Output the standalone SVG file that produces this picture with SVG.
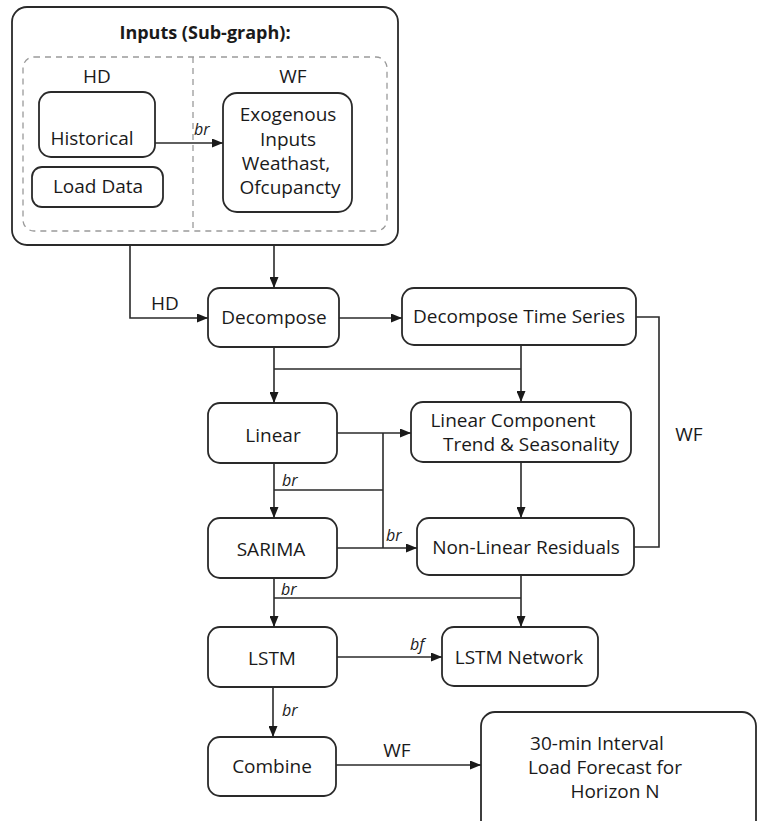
<svg xmlns="http://www.w3.org/2000/svg" width="757" height="821" viewBox="0 0 757 821">
  <style>
    .box { fill: #ffffff; stroke: #2a2a2a; stroke-width: 1.8; }
    .dash { fill: none; stroke: #9a9a9a; stroke-width: 1.3; stroke-dasharray: 6 5; }
    .t { font-family: "Open Sans", "Liberation Sans", sans-serif; font-size: 19px; fill: #1a1a1a; text-anchor: middle; }
    .lbl { font-family: "Open Sans", "Liberation Sans", sans-serif; font-size: 19px; fill: #1a1a1a; text-anchor: middle; }
    .it { font-family: "Open Sans", "Liberation Sans", sans-serif; font-size: 16px; font-style: italic; fill: #1a1a1a; }
    .title { font-family: "Open Sans", "Liberation Sans", sans-serif; font-size: 18px; font-weight: bold; fill: #1a1a1a; text-anchor: middle; }
    .edge { fill: none; stroke: #2a2a2a; stroke-width: 1.6; }
  </style>
  <defs>
    <marker id="arrow" markerUnits="userSpaceOnUse" markerWidth="11" markerHeight="9" refX="11" refY="4.5" orient="auto">
      <path d="M0,0 L11,4.5 L0,9 Z" fill="#1a1a1a"/>
    </marker>
  </defs>
  <rect width="757" height="821" fill="#ffffff"/>

  <!-- Inputs sub-graph -->
  <g id="inputs">
    <rect class="box" x="12" y="7" width="386" height="238" rx="15"/>
    <text class="title" x="205" y="39">Inputs (Sub-graph):</text>
    <rect class="dash" x="23" y="57" width="364" height="174" rx="11"/>
    <line class="dash" x1="193" y1="57" x2="193" y2="231"/>
    <text class="t" x="97" y="83">HD</text>
    <text class="t" x="293" y="83">WF</text>
  </g>
  <g id="historical">
    <rect class="box" x="39" y="92" width="116" height="65" rx="12"/>
    <text class="t" x="92" y="145">Historical</text>
  </g>
  <g id="load-data">
    <rect class="box" x="32" y="167" width="131" height="40" rx="10"/>
    <text class="t" x="98" y="193">Load Data</text>
  </g>
  <g id="exogenous">
    <rect class="box" x="223" y="93" width="129" height="119" rx="14"/>
    <text class="t" x="288" y="121">Exogenous</text>
    <text class="t" x="288" y="146">Inputs</text>
    <text class="t" x="286" y="170">Weathast,</text>
    <text class="t" x="290" y="194">Ofcupancty</text>
  </g>

  <!-- Main flow nodes -->
  <g id="decompose">
    <rect class="box" x="208" y="288" width="131" height="59" rx="12"/>
    <text class="t" x="274" y="324">Decompose</text>
  </g>
  <g id="decompose-ts">
    <rect class="box" x="402" y="288" width="234" height="57" rx="12"/>
    <text class="t" x="519" y="323">Decompose Time Series</text>
  </g>
  <g id="linear">
    <rect class="box" x="208" y="403" width="129" height="60" rx="12"/>
    <text class="t" x="273" y="442">Linear</text>
  </g>
  <g id="linear-component">
    <rect class="box" x="411" y="402" width="220" height="60" rx="12"/>
    <text class="t" x="513" y="427">Linear Component</text>
    <text class="t" x="531" y="451">Trend &amp; Seasonality</text>
  </g>
  <g id="sarima">
    <rect class="box" x="208" y="518" width="129" height="60" rx="12"/>
    <text class="t" x="271" y="556">SARIMA</text>
  </g>
  <g id="nonlinear">
    <rect class="box" x="417" y="518" width="217" height="57" rx="12"/>
    <text class="t" x="526" y="554">Non-Linear Residuals</text>
  </g>
  <g id="lstm">
    <rect class="box" x="208" y="627" width="129" height="60" rx="12"/>
    <text class="t" x="272" y="665">LSTM</text>
  </g>
  <g id="lstm-network">
    <rect class="box" x="442" y="627" width="156" height="59" rx="12"/>
    <text class="t" x="519" y="664">LSTM Network</text>
  </g>
  <g id="combine">
    <rect class="box" x="208" y="737" width="128" height="59" rx="12"/>
    <text class="t" x="272" y="773">Combine</text>
  </g>
  <g id="forecast">
    <rect class="box" x="481" y="712" width="275" height="130" rx="14"/>
    <text class="t" x="597" y="750">30-min Interval</text>
    <text class="t" x="605" y="774">Load Forecast for</text>
    <text class="t" x="615" y="798">Horizon N</text>
  </g>

  <!-- Connectors -->
  <g id="connectors">
    <path class="edge" d="M155,143 H223" marker-end="url(#arrow)"/>
    <text class="it" x="194" y="135">br</text>

    <path class="edge" d="M130,245 V318 H208" marker-end="url(#arrow)"/>
    <text class="lbl" x="165" y="310">HD</text>
    <path class="edge" d="M274,245 V288" marker-end="url(#arrow)"/>

    <path class="edge" d="M339,318 H402" marker-end="url(#arrow)"/>
    <path class="edge" d="M274,347 V403" marker-end="url(#arrow)"/>
    <path class="edge" d="M274,369 H521"/>
    <path class="edge" d="M521,345 V402" marker-end="url(#arrow)"/>

    <path class="edge" d="M636,317 H659 V547 H634"/>
    <text class="lbl" x="689" y="441">WF</text>

    <path class="edge" d="M337,433 H411" marker-end="url(#arrow)"/>
    <path class="edge" d="M383,433 V548"/>

    <path class="edge" d="M274,463 V518" marker-end="url(#arrow)"/>
    <path class="edge" d="M274,490 H383"/>
    <text class="it" x="282" y="486">br</text>

    <path class="edge" d="M337,548 H417" marker-end="url(#arrow)"/>
    <text class="it" x="386" y="541">br</text>
    <path class="edge" d="M521,462 V518" marker-end="url(#arrow)"/>

    <path class="edge" d="M274,578 V627" marker-end="url(#arrow)"/>
    <path class="edge" d="M274,598 H521"/>
    <text class="it" x="281" y="595">br</text>
    <path class="edge" d="M521,575 V627" marker-end="url(#arrow)"/>

    <path class="edge" d="M337,657 H442" marker-end="url(#arrow)"/>
    <text class="it" x="410" y="650">bf</text>

    <path class="edge" d="M273,687 V737" marker-end="url(#arrow)"/>
    <text class="it" x="282" y="716">br</text>

    <path class="edge" d="M336,765 H481" marker-end="url(#arrow)"/>
    <text class="lbl" x="397" y="757">WF</text>
  </g>
</svg>
